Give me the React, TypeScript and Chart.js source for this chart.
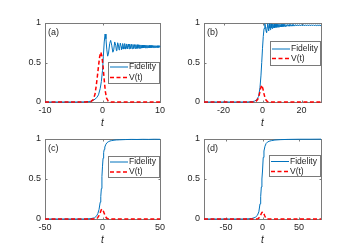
import React, { useEffect, useRef } from 'react';
import { Chart, registerables } from 'chart.js';

Chart.register(...registerables);

// ---------- data ----------
const PANEL_LABELS = ['(a)', '(b)', '(c)', '(d)'];
const SERIES_NAMES = ['Fidelity', 'V(t)'];
const AXIS_TITLE = 't';
const Y_TICKS = [0, 0.5, 1];

const X_RANGE_A = [-10, 10];
const X_RANGE_B = [-30, 30];
const X_RANGE_C = [-50, 50];
const X_RANGE_D = [-80, 80];

const X_TICKS_A = [-10, 0, 10];
const X_TICKS_B = [-20, 0, 20];
const X_TICKS_C = [-50, 0, 50];
const X_TICKS_D = [-50, 0, 50];

// panel (a)
const A_FID_T = [
  -10, -4, -3, -2.5, -2, -1.5, -1, -0.7, -0.4, -0.2, 0, 0.15, 0.3, 0.45, 0.6, 0.75, 0.9, 1.05, 1.25, 1.42,
  1.6, 1.8, 1.95, 2.12, 2.3, 2.42, 2.52, 2.64, 2.8, 2.88, 2.98, 3.1, 3.25, 3.32, 3.4, 3.51, 3.65, 3.7, 3.77, 3.86,
  3.98, 4.03, 4.1, 4.2, 4.3, 4.35, 4.42, 4.5, 4.6, 4.65, 4.72, 4.78, 4.92, 5.05, 5.18, 5.3, 5.43, 5.55, 5.67, 5.79,
  5.91, 6.03, 6.14, 6.25, 6.36, 6.47, 6.58, 6.69, 6.8, 6.9, 7.0, 7.1, 7.2, 7.3, 7.4, 7.5, 7.6, 7.7, 7.8, 7.9,
  8.0, 8.1, 8.2, 8.3, 8.4, 8.5, 8.6, 8.7, 8.8, 8.9, 9.0, 9.1, 9.2, 9.3, 9.4, 9.5, 9.6, 9.7, 9.8, 9.9, 10,
];
const A_FID = [
  0, 0, 0.002, 0.005, 0.01, 0.025, 0.055, 0.09, 0.17, 0.26, 0.4, 0.58, 0.76, 0.86, 0.8, 0.66, 0.58, 0.62, 0.74, 0.78,
  0.72, 0.63, 0.66, 0.76, 0.72, 0.65, 0.67, 0.75, 0.71, 0.66, 0.68, 0.745, 0.7, 0.665, 0.68, 0.74, 0.7, 0.67, 0.685, 0.74,
  0.7, 0.67, 0.69, 0.735, 0.7, 0.672, 0.695, 0.733, 0.7, 0.673, 0.695, 0.732, 0.674, 0.73, 0.675, 0.728, 0.676, 0.727, 0.677, 0.726,
  0.678, 0.725, 0.679, 0.724, 0.68, 0.723, 0.681, 0.722, 0.682, 0.721, 0.683, 0.72, 0.684, 0.719, 0.685, 0.718, 0.686, 0.717, 0.686, 0.716,
  0.687, 0.716, 0.687, 0.715, 0.688, 0.715, 0.688, 0.714, 0.689, 0.714, 0.689, 0.713, 0.69, 0.713, 0.69, 0.712, 0.69, 0.712, 0.69, 0.712, 0.7,
];
const A_V_T = [-10, -3, -2, -1.6, -1.3, -1.1, -0.9, -0.7, -0.5, -0.3, -0.1, 0.1, 0.3, 0.5, 0.7, 1, 1.5, 10];
const A_V = [0, 0, 0.005, 0.03, 0.1, 0.2, 0.32, 0.45, 0.57, 0.63, 0.58, 0.45, 0.28, 0.13, 0.05, 0.01, 0, 0];

// panel (b)
const B_FID_T = [
  -30, -8, -5, -4, -3, -2, -1.3, -0.8, -0.4, 0, 0.4, 0.8, 1.2, 1.5, 1.8, 2.1, 2.4, 2.65, 2.9, 3.1,
  3.3, 3.55, 3.8, 4.0, 4.2, 4.45, 4.7, 4.9, 5.1, 5.35, 5.6, 5.9, 6.2, 6.5, 6.8, 7.1, 7.4, 7.7, 8.0, 8.3,
  8.6, 8.9, 9.2, 9.5, 9.8, 10.1, 10.4, 10.7, 11.0, 11.3, 11.6, 12.0, 12.4, 12.8, 13.2, 13.6, 14.0, 14.4, 14.8, 15.2,
  15.6, 16.0, 16.5, 17.0, 17.5, 18.0, 18.5, 19.0, 19.5, 20.0, 20.5, 21.0, 21.5, 22.0, 22.5, 23.0, 23.5, 24.0, 24.5, 25.0,
  25.5, 26.0, 26.5, 27.0, 27.5, 28.0, 28.5, 29.0, 29.5, 30,
];
const B_FID = [
  0, 0, 0.005, 0.012, 0.03, 0.07, 0.18, 0.33, 0.5, 0.68, 0.83, 0.93, 0.99, 0.96, 0.9, 0.88, 0.95, 0.99, 0.93, 0.9,
  0.95, 0.99, 0.935, 0.915, 0.96, 0.988, 0.94, 0.93, 0.97, 0.986, 0.94, 0.985, 0.94, 0.984, 0.945, 0.984, 0.945, 0.983, 0.948, 0.983,
  0.95, 0.983, 0.952, 0.982, 0.953, 0.982, 0.955, 0.982, 0.956, 0.981, 0.957, 0.981, 0.958, 0.981, 0.959, 0.981, 0.96, 0.98, 0.96, 0.98,
  0.961, 0.98, 0.961, 0.98, 0.962, 0.979, 0.962, 0.979, 0.963, 0.979, 0.963, 0.979, 0.963, 0.978, 0.964, 0.978, 0.964, 0.978, 0.964, 0.978,
  0.965, 0.978, 0.965, 0.977, 0.965, 0.977, 0.965, 0.977, 0.966, 0.972,
];
const B_V_T = [-30, -5, -3.5, -2.5, -2, -1.5, -1, -0.4, 0.2, 0.7, 1.2, 1.8, 2.5, 4, 30];
const B_V = [0, 0, 0.005, 0.03, 0.06, 0.11, 0.17, 0.215, 0.17, 0.11, 0.06, 0.025, 0.005, 0, 0];

// panel (c)
const C_FID_T = [-50, -15, -10, -7, -5, -4, -3, -2, -1.5, -1, -0.5, 0, 0.5, 1, 1.5, 2, 3, 4, 5, 6.5, 8, 10, 12, 15, 20, 25, 30, 35, 40, 45, 50];
const C_FID = [0, 0, 0.005, 0.015, 0.04, 0.07, 0.12, 0.21, 0.28, 0.38, 0.53, 0.66, 0.76, 0.83, 0.87, 0.9, 0.935, 0.955, 0.965, 0.975, 0.98, 0.985, 0.988, 0.99, 0.993, 0.995, 0.994, 0.996, 0.995, 0.997, 0.996];
const C_V_T = [-50, -8, -5, -4, -3, -2, -1, -0.3, 0.5, 1.5, 2.5, 3.5, 5, 7, 50];
const C_V = [0, 0, 0.005, 0.02, 0.045, 0.08, 0.115, 0.125, 0.11, 0.07, 0.035, 0.012, 0.002, 0, 0];

// panel (d)
const D_FID_T = [-80, -25, -15, -10, -7, -5, -3.4, -2.5, -1.6, -0.8, 0, 1, 2, 3.4, 5, 6.6, 9, 12.5, 17, 25, 35, 50, 65, 80];
const D_FID = [0, 0, 0.005, 0.02, 0.045, 0.09, 0.19, 0.28, 0.4, 0.5, 0.6, 0.77, 0.85, 0.91, 0.945, 0.96, 0.972, 0.98, 0.987, 0.992, 0.995, 0.997, 0.997, 0.998];
const D_V_T = [-80, -8, -6, -4, -2.5, -1, 0.3, 1.5, 3, 4.5, 6, 8, 80];
const D_V = [0, 0, 0.005, 0.02, 0.05, 0.08, 0.09, 0.075, 0.04, 0.012, 0.003, 0, 0];

const PANELS = [
  { label: PANEL_LABELS[0], range: X_RANGE_A, xTicks: X_TICKS_A, fidT: A_FID_T, fid: A_FID, vT: A_V_T, v: A_V },
  { label: PANEL_LABELS[1], range: X_RANGE_B, xTicks: X_TICKS_B, fidT: B_FID_T, fid: B_FID, vT: B_V_T, v: B_V },
  { label: PANEL_LABELS[2], range: X_RANGE_C, xTicks: X_TICKS_C, fidT: C_FID_T, fid: C_FID, vT: C_V_T, v: C_V },
  { label: PANEL_LABELS[3], range: X_RANGE_D, xTicks: X_TICKS_D, fidT: D_FID_T, fid: D_FID, vT: D_V_T, v: D_V },
];

// ---------- layout / style ----------
const W = 348;
const H = 245;
const Y_AXIS_W = 30;
const X_AXIS_H = 26;
const BOXES = [
  { l: 45, r: 160, t: 23, b: 102 },
  { l: 204, r: 321, t: 23, b: 102 },
  { l: 45, r: 160, t: 139, b: 219 },
  { l: 204, r: 321, t: 139, b: 219 },
];
const LEGENDS = [
  { x: 108, y: 61.5, w: 52, h: 21, r1: 5.5, r2: 16 },
  { x: 270, y: 41, w: 51, h: 23.5, r1: 8, r2: 17.5 },
  { x: 108, y: 155.5, w: 52, h: 21, r1: 6.5, r2: 16.5 },
  { x: 269, y: 155, w: 52, h: 21, r1: 6.5, r2: 16.5 },
];
const FONT = "'Liberation Sans', Arial, Helvetica, sans-serif";
const TEXT_COLOR = '#262626';
const AXIS_COLOR = '#7a7a7a';
const BLUE = '#0072BD';
const RED = '#FF0000';

function toPoints(ts: number[], vs: number[]) {
  return ts.map((t, i) => ({ x: t, y: vs[i] }));
}

function Panel({ idx }: { idx: number }) {
  const ref = useRef<HTMLCanvasElement | null>(null);
  useEffect(() => {
    const p = PANELS[idx];
    const box = BOXES[idx];
    const leg = LEGENDS[idx];
    const framePlugin = {
      id: 'frame' + idx,
      beforeDatasetsDraw(chart: any) {
        const { ctx, chartArea: a, scales } = chart;
        const xs = scales.x;
        const ys = scales.y;
        ctx.save();
        ctx.strokeStyle = AXIS_COLOR;
        ctx.lineWidth = 1;
        const L = Math.round(a.left) + 0.5;
        const R = Math.round(a.right) + 0.5;
        const T = Math.round(a.top) + 0.5;
        const B = Math.round(a.bottom) + 0.5;
        ctx.strokeRect(L, T, R - L, B - T);
        ctx.beginPath();
        const tl = 2;
        p.xTicks.forEach((v) => {
          const px = Math.round(xs.getPixelForValue(v)) + 0.5;
          ctx.moveTo(px, B); ctx.lineTo(px, B - tl);
          ctx.moveTo(px, T); ctx.lineTo(px, T + tl);
        });
        Y_TICKS.forEach((v) => {
          const py = Math.round(ys.getPixelForValue(v)) + 0.5;
          ctx.moveTo(L, py); ctx.lineTo(L + tl, py);
          ctx.moveTo(R, py); ctx.lineTo(R - tl, py);
        });
        ctx.stroke();
        // tick labels
        ctx.fillStyle = TEXT_COLOR;
        ctx.font = `9px ${FONT}`;
        ctx.textBaseline = 'middle';
        ctx.textAlign = 'center';
        p.xTicks.forEach((v) => {
          ctx.fillText(String(v), xs.getPixelForValue(v), a.bottom + 9);
        });
        ctx.textAlign = 'right';
        Y_TICKS.forEach((v) => {
          ctx.fillText(String(v), a.left - 4, ys.getPixelForValue(v));
        });
        // axis title
        ctx.textAlign = 'center';
        ctx.font = `italic 10px ${FONT}`;
        ctx.fillText(AXIS_TITLE, (a.left + a.right) / 2, a.bottom + 21);
        ctx.restore();
      },
      afterDraw(chart: any) {
        const { ctx, chartArea: a } = chart;
        ctx.save();
        // panel label
        ctx.fillStyle = TEXT_COLOR;
        ctx.font = `9px ${FONT}`;
        ctx.textBaseline = 'middle';
        ctx.textAlign = 'left';
        ctx.fillText(p.label, a.left + 3, a.top + 10);
        // legend
        ctx.fillStyle = '#ffffff';
        ctx.fillRect(leg.x, leg.y, leg.w, leg.h);
        ctx.strokeStyle = AXIS_COLOR;
        ctx.lineWidth = 1;
        ctx.strokeRect(Math.round(leg.x) + 0.5, Math.round(leg.y) + 0.5, Math.round(leg.w) - 1, Math.round(leg.h));
        const rows = [leg.r1, leg.r2];
        chart.data.datasets.forEach((ds: any, i: number) => {
          const ry = leg.y + rows[i];
          ctx.save();
          ctx.strokeStyle = ds.borderColor;
          ctx.lineWidth = ds.borderWidth;
          ctx.setLineDash(ds.borderDash || []);
          ctx.beginPath();
          ctx.moveTo(leg.x + 2, ry);
          ctx.lineTo(leg.x + 20, ry);
          ctx.stroke();
          ctx.restore();
          ctx.fillStyle = TEXT_COLOR;
          ctx.font = `8.5px ${FONT}`;
          ctx.textBaseline = 'middle';
          ctx.textAlign = 'left';
          ctx.fillText(ds.label, leg.x + 21, ry);
        });
        ctx.restore();
      },
    };
    const chart = new Chart(ref.current as HTMLCanvasElement, {
      type: 'line',
      data: {
        datasets: [
          {
            label: SERIES_NAMES[0],
            data: toPoints(p.fidT, p.fid),
            borderColor: BLUE,
            borderWidth: 1,
            pointRadius: 0,
            tension: 0,
            fill: false,
            order: 1,
            clip: 4,
          },
          {
            label: SERIES_NAMES[1],
            data: toPoints(p.vT, p.v),
            borderColor: RED,
            borderWidth: 1.5,
            borderDash: [4, 2.5],
            pointRadius: 0,
            tension: 0,
            fill: false,
            order: 0,
            clip: 4,
          },
        ],
      } as any,
      options: {
        animation: false,
        responsive: false,
        devicePixelRatio: 1,
        parsing: false,
        normalized: true,
        events: [],
        layout: {
          padding: {
            left: box.l - Y_AXIS_W,
            right: W - box.r,
            top: box.t,
            bottom: H - box.b - X_AXIS_H,
          },
        },
        plugins: { legend: { display: false }, tooltip: { enabled: false }, title: { display: false } },
        scales: {
          x: {
            type: 'linear',
            min: p.range[0],
            max: p.range[1],
            grid: { display: false },
            border: { display: false },
            afterBuildTicks: (s: any) => { s.ticks = p.xTicks.map((v) => ({ value: v })); },
            afterFit: (s: any) => { s.height = X_AXIS_H; },
            ticks: { display: false },
            title: { display: false, text: AXIS_TITLE },
          },
          y: {
            type: 'linear',
            min: 0,
            max: 1,
            grid: { display: false },
            border: { display: false },
            afterBuildTicks: (s: any) => { s.ticks = Y_TICKS.map((v) => ({ value: v })); },
            afterFit: (s: any) => { s.width = Y_AXIS_W; },
            ticks: { display: false },
          },
        },
      } as any,
      plugins: [framePlugin],
    });
    return () => chart.destroy();
  }, [idx]);
  return (
    <canvas
      ref={ref}
      width={W}
      height={H}
      style={{ position: 'absolute', left: 0, top: 0, width: W, height: H }}
    />
  );
}

export default function App() {
  return (
    <div style={{ position: 'fixed', left: 0, top: 0, width: W, height: H, background: '#ffffff', overflow: 'hidden' }}>
      {PANELS.map((_, i) => (
        <Panel key={i} idx={i} />
      ))}
    </div>
  );
}
